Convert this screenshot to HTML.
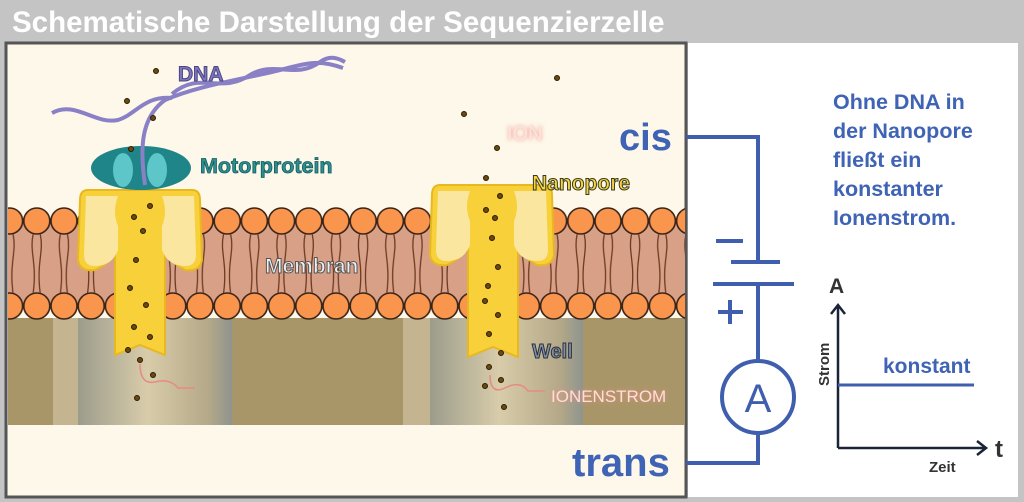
<!DOCTYPE html>
<html><head><meta charset="utf-8"><style>
html,body{margin:0;padding:0;background:#c4c4c4;}
svg{display:block;font-family:"Liberation Sans","DejaVu Sans",sans-serif;}
</style></head><body>
<svg width="1024" height="502" viewBox="0 0 1024 502" xmlns="http://www.w3.org/2000/svg">
<defs>
<pattern id="heads" x="-4" y="0" width="27.2" height="502" patternUnits="userSpaceOnUse">
<circle cx="13.6" cy="221" r="13" fill="#f9954c" stroke="#3a2418" stroke-width="1.6"/>
<circle cx="13.6" cy="306" r="13" fill="#f9954c" stroke="#3a2418" stroke-width="1.6"/>
<path d="M10 234 C6 252 14 262 10 293 M17 234 C21 252 13 262 17 293" stroke="#6b3a22" stroke-width="1.3" fill="none"/>
</pattern>
<linearGradient id="well" x1="0" x2="1">
<stop offset="0" stop-color="#9c9c8c"/><stop offset="0.45" stop-color="#d8ccaa"/><stop offset="0.85" stop-color="#b4a888"/><stop offset="1" stop-color="#8e948e"/>
</linearGradient>
<filter id="glow"><feGaussianBlur stdDeviation="2"/></filter>
</defs>
<rect x="0" y="0" width="1024" height="502" fill="#c4c4c4"/>
<text x="12" y="32" font-size="29.5" font-weight="bold" fill="#fff">Schematische Darstellung der Sequenzierzelle</text>
<rect x="688" y="43" width="330" height="454" fill="#fff"/>
<rect x="6" y="43" width="680" height="454" fill="#fdf8ea" stroke="#555" stroke-width="3"/>
<rect x="8" y="318" width="677" height="107" fill="#a89668"/>
<rect x="53" y="318" width="25" height="107" fill="#c4b490"/>
<rect x="78" y="318" width="154" height="107" fill="url(#well)"/>
<rect x="403" y="318" width="27" height="107" fill="#c4b490"/>
<rect x="430" y="318" width="153" height="107" fill="url(#well)"/>
<rect x="8" y="221" width="677" height="85" fill="#d9a088"/>
<rect x="8" y="205" width="677" height="118" fill="url(#heads)"/>
<path d="M88 190 Q80 190 80 200 L78 260 Q80 272 95 270 Q112 262 115 250 L115 355 L140 345 L165 355 L165 250 Q170 262 185 270 Q200 272 202 260 L200 200 Q200 190 192 190 Z" fill="#f7d03a" stroke="#e8b820" stroke-width="2"/>
<path d="M86 196 L118 196 Q112 212 118 226 L118 250 Q112 266 95 266 Q84 266 84 255 Z M194 196 L162 196 Q168 212 162 226 L162 250 Q168 266 185 266 Q196 266 196 255 Z" fill="#fbe6a0"/>
<path d="M440 185 Q432 185 432 195 L430 255 Q432 267 447 265 Q464 257 468 245 L468 357 L493 347 L518 357 L518 245 Q522 257 537 265 Q552 267 554 255 L552 195 Q552 185 544 185 Z" fill="#f7d03a" stroke="#e8b820" stroke-width="2"/>
<path d="M438 191 L470 191 Q464 207 470 221 L470 245 Q464 261 447 261 Q436 261 436 250 Z M546 191 L514 191 Q520 207 514 221 L514 245 Q520 261 537 261 Q548 261 548 250 Z" fill="#fbe6a0"/>
<ellipse cx="141" cy="168" rx="50" ry="22" fill="#1f8589"/>
<ellipse cx="123" cy="170" rx="10" ry="17" fill="#5cc6c8"/>
<ellipse cx="157" cy="170" rx="10" ry="17" fill="#5cc6c8"/>
<path d="M52 113 C75 100 95 125 118 120 C135 115 145 95 172 98" stroke="#8a80c6" stroke-width="4" fill="none"/>
<path d="M145 185 C140 150 140 118 165 100 C200 85 240 80 280 70 C310 62 320 60 343 68" stroke="#8a80c6" stroke-width="4" fill="none"/>
<path d="M172 94 C200 70 220 95 250 75 C275 60 295 80 320 62 C330 55 338 58 345 62" stroke="#8a80c6" stroke-width="4" fill="none"/>
<g fill="#6b4a10" stroke="#2a1a05" stroke-width="1">
<circle cx="156" cy="71" r="2.5"/><circle cx="127" cy="101" r="2.5"/><circle cx="153" cy="118" r="2.5"/><circle cx="131" cy="149" r="2.5"/>
<circle cx="150" cy="206" r="2.5"/><circle cx="134" cy="217" r="2.5"/><circle cx="143" cy="231" r="2.5"/><circle cx="136" cy="260" r="2.5"/><circle cx="130" cy="288" r="2.5"/><circle cx="146" cy="305" r="2.5"/><circle cx="134" cy="327" r="2.5"/><circle cx="150" cy="337" r="2.5"/><circle cx="128" cy="350" r="2.5"/><circle cx="140" cy="360" r="2.5"/><circle cx="153" cy="375" r="2.5"/><circle cx="137" cy="398" r="2.5"/>
<circle cx="464" cy="114" r="2.5"/><circle cx="497" cy="148" r="2.5"/><circle cx="486" cy="178" r="2.5"/><circle cx="500" cy="196" r="2.5"/><circle cx="486" cy="210" r="2.5"/><circle cx="495" cy="218" r="2.5"/><circle cx="492" cy="238" r="2.5"/><circle cx="498" cy="267" r="2.5"/><circle cx="488" cy="286" r="2.5"/><circle cx="485" cy="301" r="2.5"/><circle cx="498" cy="315" r="2.5"/><circle cx="489" cy="334" r="2.5"/><circle cx="501" cy="353" r="2.5"/><circle cx="489" cy="367" r="2.5"/><circle cx="501" cy="380" r="2.5"/><circle cx="485" cy="386" r="2.5"/><circle cx="504" cy="407" r="2.5"/>
<circle cx="557" cy="78" r="2.5"/>
</g>
<path d="M140 364 Q140 385 155 382 Q170 378 178 388 L195 388" stroke="#e88a84" stroke-width="1.5" fill="none"/>
<path d="M490 375 Q490 395 505 388 Q520 380 528 391 L545 391" stroke="#e88a84" stroke-width="1.5" fill="none"/>
<text x="178" y="81" font-size="21" font-weight="bold" fill="#7d77c2" stroke="#4a4680" stroke-width="1">DNA</text>
<text x="200" y="173" font-size="21.5" font-weight="bold" fill="#2c9092" stroke="#155a5a" stroke-width="0.8">Motorprotein</text>
<text x="265" y="273" font-size="21" font-weight="bold" fill="#eee" stroke="#555" stroke-width="1">Membran</text>
<text x="507" y="140" font-size="20" fill="#f08a80" filter="url(#glow)">ION</text>
<text x="507" y="140" font-size="20" fill="#fbe3de">ION</text>
<text x="532" y="190" font-size="21" font-weight="bold" fill="#f5d540" stroke="#3a3a20" stroke-width="1">Nanopore</text>
<text x="532" y="358" font-size="20" font-weight="bold" fill="#8290a0" stroke="#2a3040" stroke-width="1">Well</text>
<text x="551" y="402" font-size="17" fill="#f08a80" filter="url(#glow)">IONENSTROM</text>
<text x="551" y="402" font-size="17" fill="#fbe0da">IONENSTROM</text>
<g stroke="#3f5fae" stroke-width="4" fill="none">
<path d="M686 137 L758 137 L758 262"/>
<path d="M731 262 L780 262"/>
<path d="M713 284 L794 284"/>
<path d="M758 284 L758 361"/>
<circle cx="758" cy="397" r="36"/>
<path d="M758 433 L758 463 L686 463"/>
<path d="M716 241 L743 241"/>
<path d="M718 312 L743 312 M730 300 L730 324"/>
</g>
<g stroke="#1a2438" stroke-width="2.5" fill="none"><path d="M838 448 L838 306 M831 314 L838 305 L845 314 M838 448 L985 448 M977 441 L986 448 L977 455"/></g>
<path d="M838 385 L974 385" stroke="#3f5fae" stroke-width="3"/>
<text x="758" y="412" font-size="40" fill="#3f5fae" text-anchor="middle">A</text>
<text x="619" y="150" font-size="38" font-weight="bold" fill="#3f63b5">cis</text>
<text x="572" y="476" font-size="40" font-weight="bold" fill="#3f63b5">trans</text>
<g font-size="21.5" font-weight="bold" fill="#3f63b5">
<text x="833" y="109">Ohne DNA in</text>
<text x="833" y="138">der Nanopore</text>
<text x="833" y="167">fließt ein</text>
<text x="833" y="196">konstanter</text>
<text x="833" y="225">Ionenstrom.</text>
</g>
<text x="883" y="373" font-size="21" font-weight="bold" fill="#3f63b5">konstant</text>
<text x="829" y="293" font-size="21" font-weight="bold" fill="#333">A</text>
<text x="995" y="457" font-size="24" font-weight="bold" fill="#333">t</text>
<text x="929" y="472" font-size="15" font-weight="bold" fill="#333">Zeit</text>
<text transform="translate(829,386) rotate(-90)" font-size="15" font-weight="bold" fill="#333">Strom</text>
</svg>
</body></html>
